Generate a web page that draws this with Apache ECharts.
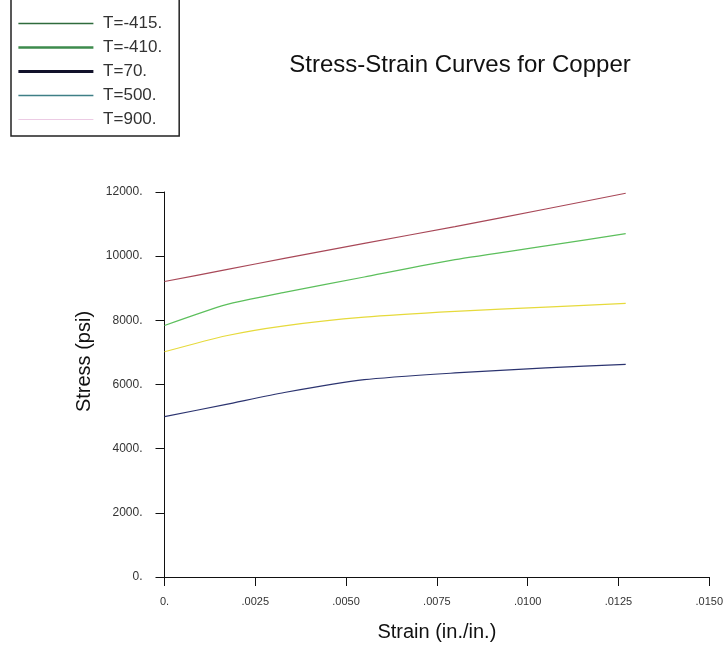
<!DOCTYPE html>
<html>
<head>
<meta charset="utf-8">
<script src="https://cdn.jsdelivr.net/npm/echarts@6/dist/echarts.min.js"></script>
<style>
  html, body { margin: 0; padding: 0; background: #ffffff; }
  #chart { width: 726px; height: 647px; }
</style>
</head>
<body>
<div id="chart"></div>
<script>
// Strain samples (in./in.) shared by all curves
const strain = [0, 0.0017, 0.0033, 0.0055, 0.0080, 0.0105, 0.0127];

// Stress (psi) at each strain sample, one array per temperature
const stressTm415 = [9210, 9580, 9930, 10400, 10920, 11470, 11960];
const stressTm410 = [7840, 8490, 8870, 9350, 9890, 10320, 10700];
const stressT70   = [7020, 7520, 7830, 8100, 8280, 8410, 8530];
const stressT500  = [5000, 5380, 5750, 6150, 6360, 6520, 6630];
const stressT900  = [];

const seriesNames = ['T=-415.', 'T=-410.', 'T=70.', 'T=500.', 'T=900.'];

// Tick labels
const xTickLabels = ['0.', '.0025', '.0050', '.0075', '.0100', '.0125', '.0150'];
const yTickLabels = ['0.', '2000.', '4000.', '6000.', '8000.', '10000.', '12000.'];

const curveColors = ['#a84858', '#5cbf5c', '#e6da3c', '#2c3470', '#e8b8dc'];
const legendStyles = [
  { color: '#2f6b3c', width: 1.5 },
  { color: '#3d8b4c', width: 2.5 },
  { color: '#12122a', width: 2.8 },
  { color: '#3f7f86', width: 1.5 },
  { color: '#eccbe4', width: 1 }
];

const stressSets = [stressTm415, stressTm410, stressT70, stressT500, stressT900];

function pairs(values) {
  return values.map((v, i) => [strain[i], v]);
}

const chart = echarts.init(document.getElementById('chart'), null, { renderer: 'canvas' });

chart.setOption({
  backgroundColor: '#ffffff',
  animation: false,
  title: {
    text: 'Stress-Strain Curves for Copper',
    left: 455,
    top: 48,
    textAlign: 'center',
    textStyle: {
      fontFamily: 'Liberation Sans, Arial, sans-serif',
      fontSize: 24,
      fontWeight: 'normal',
      color: '#111111'
    }
  },
  legend: {
    show: true,
    orient: 'vertical',
    left: 11,
    top: -12,
    padding: [27, 17, 8, 6],
    itemWidth: 75,
    itemHeight: 14,
    itemGap: 7,
    borderColor: '#222222',
    borderWidth: 1.5,
    selectedMode: false,
    formatter: name => ' ' + name,
    textStyle: {
      fontFamily: 'Liberation Sans, Arial, sans-serif',
      fontSize: 17,
      color: '#333333'
    },
    data: seriesNames.map((name, i) => ({
      name: name,
      itemStyle: { color: legendStyles[i].color, opacity: 0 },
      lineStyle: { color: legendStyles[i].color, width: legendStyles[i].width, opacity: 1 }
    }))
  },
  grid: {
    left: 164.5,
    right: 15,
    top: 192,
    bottom: 69,
    containLabel: false
  },
  xAxis: {
    type: 'value',
    min: 0,
    max: 0.015,
    interval: 0.0025,
    name: 'Strain (in./in.)',
    nameLocation: 'middle',
    nameGap: 45,
    nameTextStyle: {
      fontFamily: 'Liberation Sans, Arial, sans-serif',
      fontSize: 20,
      color: '#111111'
    },
    axisLine: { show: true, onZero: false, lineStyle: { color: '#111111', width: 1 } },
    axisTick: { show: true, length: 9, lineStyle: { color: '#111111', width: 1 } },
    axisLabel: {
      margin: 19,
      fontFamily: 'Liberation Sans, Arial, sans-serif',
      fontSize: 11,
      color: '#333333',
      formatter: v => xTickLabels[Math.round(v / 0.0025)]
    },
    splitLine: { show: false }
  },
  yAxis: {
    type: 'value',
    min: 0,
    max: 12000,
    interval: 2000,
    name: 'Stress (psi)',
    nameLocation: 'middle',
    nameGap: 67,
    nameTextStyle: {
      fontFamily: 'Liberation Sans, Arial, sans-serif',
      fontSize: 20,
      color: '#111111',
      padding: [0, 0, 0, 46]
    },
    axisLine: { show: true, onZero: false, lineStyle: { color: '#111111', width: 1 } },
    axisTick: { show: true, length: 9, lineStyle: { color: '#111111', width: 1 } },
    axisLabel: {
      margin: 22,
      fontFamily: 'Liberation Sans, Arial, sans-serif',
      fontSize: 12,
      color: '#333333',
      formatter: v => yTickLabels[Math.round(v / 2000)]
    },
    splitLine: { show: false }
  },
  series: seriesNames.map((name, i) => ({
    name: name,
    type: 'line',
    data: pairs(stressSets[i]),
    showSymbol: false,
    symbol: 'none',
    smooth: 0.2,
    lineStyle: { color: curveColors[i], width: 1.2 },
    itemStyle: { color: curveColors[i] }
  }))
});
</script>
</body>
</html>
